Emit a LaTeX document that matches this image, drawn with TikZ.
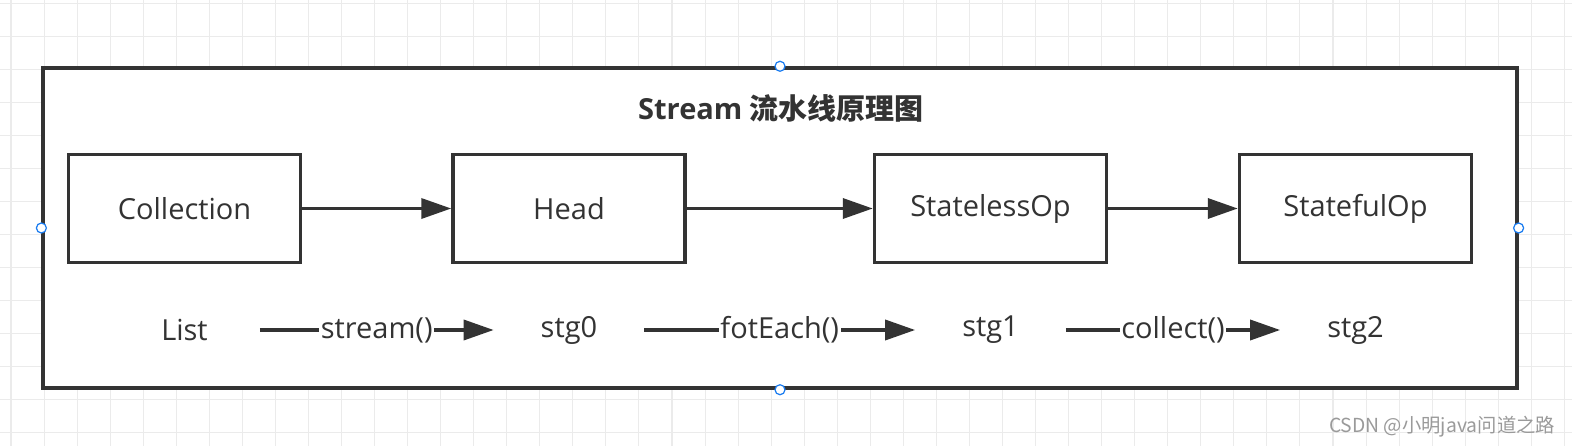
\documentclass[tikz,border=0pt]{standalone}
\usepackage{fontspec}
\setmainfont{Open Sans}
\newfontfamily\cjk{Noto Sans CJK SC}
\usetikzlibrary{arrows.meta}
\definecolor{tinta}{HTML}{333333}
\definecolor{rejilla}{HTML}{EBEBEB}
\definecolor{asacol}{HTML}{1A7CF0}
\definecolor{marcaagua}{HTML}{9A9A9A}

\begin{document}
\begin{tikzpicture}[x=0.02cm, y=-0.02cm,
    letra/.style={text=tinta, font=\fontsize{16.5}{20}\selectfont},
    marco/.style={draw=tinta, fill=white, line width=2pt, minimum width=29.48cm,
      minimum height=6.4cm, inner sep=0pt},
    caja/.style={letra, draw=tinta, line width=2pt, minimum width=4.64cm,
      minimum height=2.16cm, inner sep=0pt},
    etapa/.style={letra, minimum width=3cm, inner sep=0pt},
    flecha/.style={draw=tinta, line width=2pt, -{Triangle[length=0.6cm, width=0.4cm]}},
    etiq/.style={letra, fill=white, inner sep=1pt},
    asa/.style={circle, draw=asacol, fill=white, line width=0.7pt, minimum size=0.2cm, inner sep=0pt}]
  \useasboundingbox (0,0) rectangle (1572,446);
  \fill[white] (0,0) rectangle (1572,446);
  \foreach \i in {0,...,47} \draw[rejilla, line width=0.6pt] (11+33.05*\i,0) -- (11+33.05*\i,446);
  \foreach \j in {0,...,13} \draw[rejilla, line width=0.6pt] (0,3.3+33.05*\j) -- (1572,3.3+33.05*\j);
  \node[marco] (marco) at (780,228) {};
  \node[letra, font=\fontsize{16.5}{20}\selectfont\bfseries] (titulo) at (781,108)
    {Stream {\cjk\bfseries 流水线原理图}};
  \node[caja] (coll)  at (184.5,208.5)  {Collection};
  \node[caja] (head)  at (569,208.5)    {Head};
  \node[caja] (sless) at (990.5,208.5)  {StatelessOp};
  \node[caja] (sful)  at (1355.5,208.5) {StatefulOp};
  \draw[flecha] (coll) -- (head);
  \draw[flecha] (head) -- (sless);
  \draw[flecha] (sless) -- (sful);
  \node[etapa] (list) at (184.5,330)  {List};
  \node[etapa] (stg0) at (569,330)    {stg0};
  \node[etapa] (stg1) at (990.5,330)  {stg1};
  \node[etapa] (stg2) at (1355.5,330) {stg2};
  \draw[flecha] (list) -- node[etiq]{stream()} (stg0);
  \draw[flecha] (stg0) -- node[etiq]{fotEach()} (stg1);
  \draw[flecha] (stg1) -- node[etiq]{collect()} (stg2);
  \node[asa] (asan) at (marco.north) {};
  \node[asa] (asas) at (marco.south) {};
  \node[asa] (asao) at (marco.west) {};
  \node[asa] (asae) at (marco.east) {};
  \node[text=marcaagua, font=\cjk\fontsize{11}{13}\selectfont] (csdn) at (1442,427)
    {CSDN @小明java问道之路};
\end{tikzpicture}
\end{document}
